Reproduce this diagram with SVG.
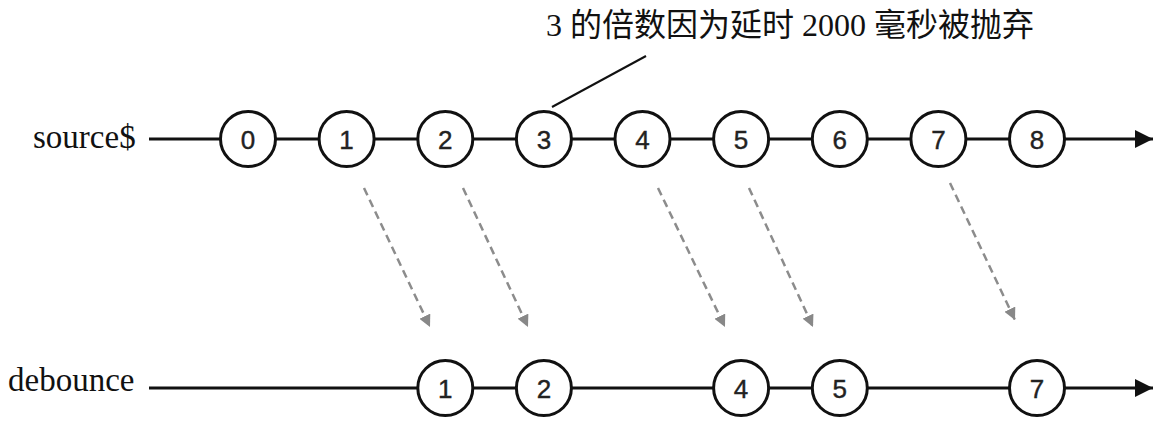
<svg xmlns="http://www.w3.org/2000/svg" width="1170" height="426" viewBox="0 0 1170 426">
<style>
.lbl{font-family:"Liberation Serif","Noto Sans CJK SC",serif;font-size:33px;fill:#111}
.title{font-family:"Liberation Serif","Noto Sans CJK SC",serif;font-size:32px;fill:#111}
.node circle{fill:#fff;stroke:#111;stroke-width:3}
.node text{font-family:"Liberation Sans",Arial,sans-serif;font-size:26px;fill:#222;text-anchor:middle;stroke:#222;stroke-width:0.4}
.axis{stroke:#111;stroke-width:3;fill:none}
.dash{stroke:#8c8c8c;stroke-width:2.5;stroke-dasharray:8 5;fill:none}
</style>
<defs>
<marker id="ah" markerUnits="userSpaceOnUse" markerWidth="18" markerHeight="18" refX="18" refY="9" orient="auto">
<path d="M0,0 L18,9 L0,18 z" fill="#111"/>
</marker>
<marker id="gh" markerUnits="userSpaceOnUse" markerWidth="12" markerHeight="12" refX="12" refY="6" orient="auto">
<path d="M0,0 L12,6 L0,12 z" fill="#888"/>
</marker>
</defs>
<text class="lbl" x="33" y="148">source$</text>
<text class="lbl" x="8" y="391">debounce</text>
<text class="title" x="546" y="36">3 的倍数因为延时 2000 毫秒被抛弃</text>
<g id="connectors">
<line class="axis" x1="149" y1="139" x2="1153" y2="139" marker-end="url(#ah)"/>
<line class="axis" x1="149" y1="388" x2="1153" y2="388" marker-end="url(#ah)"/>
<line x1="552" y1="107" x2="646" y2="56" stroke="#111" stroke-width="2"/>
<line class="dash" x1="364" y1="188" x2="430" y2="327" marker-end="url(#gh)"/>
<line class="dash" x1="463" y1="188" x2="528" y2="327" marker-end="url(#gh)"/>
<line class="dash" x1="658" y1="188" x2="725" y2="327" marker-end="url(#gh)"/>
<line class="dash" x1="749" y1="188" x2="813" y2="327" marker-end="url(#gh)"/>
<line class="dash" x1="950" y1="183" x2="1015" y2="320" marker-end="url(#gh)"/>
</g>
<g id="s0" class="node"><circle cx="248" cy="139" r="27.5"/><text x="248" y="148.5">0</text></g>
<g id="s1" class="node"><circle cx="346.6" cy="139" r="27.5"/><text x="346.6" y="148.5">1</text></g>
<g id="s2" class="node"><circle cx="445.3" cy="139" r="27.5"/><text x="445.3" y="148.5">2</text></g>
<g id="s3" class="node"><circle cx="543.9" cy="139" r="27.5"/><text x="543.9" y="148.5">3</text></g>
<g id="s4" class="node"><circle cx="642.5" cy="139" r="27.5"/><text x="642.5" y="148.5">4</text></g>
<g id="s5" class="node"><circle cx="741.1" cy="139" r="27.5"/><text x="741.1" y="148.5">5</text></g>
<g id="s6" class="node"><circle cx="839.8" cy="139" r="27.5"/><text x="839.8" y="148.5">6</text></g>
<g id="s7" class="node"><circle cx="938.4" cy="139" r="27.5"/><text x="938.4" y="148.5">7</text></g>
<g id="s8" class="node"><circle cx="1037" cy="139" r="27.5"/><text x="1037" y="148.5">8</text></g>
<g id="d1" class="node"><circle cx="445.3" cy="388" r="27.5"/><text x="445.3" y="397.5">1</text></g>
<g id="d2" class="node"><circle cx="543.9" cy="388" r="27.5"/><text x="543.9" y="397.5">2</text></g>
<g id="d4" class="node"><circle cx="741.1" cy="388" r="27.5"/><text x="741.1" y="397.5">4</text></g>
<g id="d5" class="node"><circle cx="839.8" cy="388" r="27.5"/><text x="839.8" y="397.5">5</text></g>
<g id="d7" class="node"><circle cx="1037" cy="388" r="27.5"/><text x="1037" y="397.5">7</text></g>
</svg>
